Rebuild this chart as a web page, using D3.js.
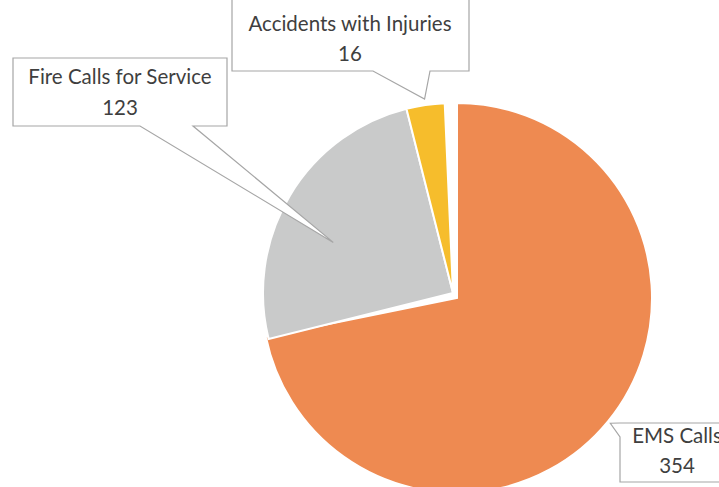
<!DOCTYPE html>
<html>
<head>
<meta charset="utf-8">
<script src="https://cdn.jsdelivr.net/npm/d3@7"></script>
<style>
  body { margin: 0; background: #fff; }
  svg { display: block; }
  .lbl { font-family: Lato, "Open Sans", sans-serif; font-size: 20.5px; fill: #3f3f3f; }
</style>
</head>
<body>
<div id="chart"></div>
<script>
// data
var categories = ["EMS Calls", "Fire Calls for Service", "Accidents with Injuries"];
var values = [354, 123, 16];
var colors = ["#EE8A51", "#C9CACA", "#F6BD2C"];

var svgWidth = 719;
var svgHeight = 487;

var svg = d3.select("#chart")
  .append("svg")
  .attr("width", svgWidth)
  .attr("height", svgHeight);

var cx = 457, cy = 298, radius = 195;
// the two small slices sit a bit off the main one
var shift = [-4, -5], turn = -2.5, smallR = 190;

var pie = d3.pie().sort(null).value(function(d) { return d; });
var slices = pie(values);

var arcBig = d3.arc().innerRadius(0).outerRadius(radius);
var arcSmall = d3.arc().innerRadius(0).outerRadius(smallR);

var main = svg.append("g").attr("transform", "translate(" + cx + "," + cy + ")");
var side = svg.append("g")
  .attr("transform", "translate(" + (cx + shift[0]) + "," + (cy + shift[1]) + ") rotate(" + turn + ")");

slices.forEach(function(s, i) {
  var g = i === 0 ? main : side;
  g.append("path")
    .attr("d", (i === 0 ? arcBig : arcSmall)(s))
    .attr("fill", colors[i])
    .attr("stroke", "#fff")
    .attr("stroke-width", 2);
});

// point on a slice, in page coords (da = degrees off the slice middle)
function tipPoint(i, r, da) {
  var s = slices[i];
  var a = (s.startAngle + s.endAngle) / 2 + da * Math.PI / 180;
  var ox = cx, oy = cy;
  if (i > 0) { ox += shift[0]; oy += shift[1]; a += turn * Math.PI / 180; }
  return [ox + r * Math.sin(a), oy - r * Math.cos(a)];
}

// callout boxes: box, tail base points and tip
var callouts = [
  { i: 0, box: [620, 423, 735, 482], tail: "left", base: [423, 437], r: 198, da: 0, anchor: 677, lines: [443, 473] },
  { i: 1, box: [13, 58, 227, 126], tail: "bottom", base: [140, 193], r: 130, da: -8, anchor: 120, lines: [84, 115] },
  { i: 2, box: [232, -6, 469, 71], tail: "bottom", base: [373, 430], r: 196, da: 0, anchor: 350, lines: [31, 61] }
];

callouts.forEach(function(c) {
  var b = c.box, t = tipPoint(c.i, c.r, c.da);
  var p = d3.path();
  if (c.tail === "bottom") {
    p.moveTo(b[0], b[1]);
    p.lineTo(b[2], b[1]);
    p.lineTo(b[2], b[3]);
    p.lineTo(c.base[1], b[3]);
    p.lineTo(t[0], t[1]);
    p.lineTo(c.base[0], b[3]);
    p.lineTo(b[0], b[3]);
    p.closePath();
  } else {
    p.moveTo(b[0], b[1]);
    p.lineTo(b[2], b[1]);
    p.lineTo(b[2], b[3]);
    p.lineTo(b[0], b[3]);
    p.lineTo(b[0], c.base[1]);
    p.lineTo(t[0], t[1]);
    p.lineTo(b[0], c.base[0]);
    p.closePath();
  }
  svg.append("path")
    .attr("d", p.toString())
    .attr("fill", "#fff")
    .attr("stroke", "#a6a6a6")
    .attr("stroke-width", 1.2);

  svg.append("text").attr("class", "lbl")
    .attr("x", c.anchor).attr("y", c.lines[0])
    .attr("text-anchor", "middle")
    .text(categories[c.i]);
  svg.append("text").attr("class", "lbl")
    .attr("x", c.anchor).attr("y", c.lines[1])
    .attr("text-anchor", "middle")
    .text(values[c.i]);
});
</script>
</body>
</html>
